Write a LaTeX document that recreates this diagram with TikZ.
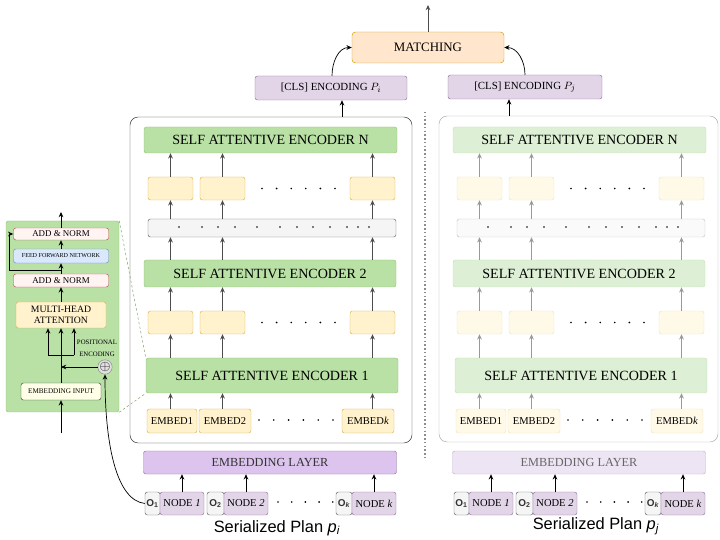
\documentclass[tikz,border=0pt]{standalone}
\usepackage{fontspec}
\setmainfont{Liberation Serif}
\setsansfont{Liberation Sans}
\usetikzlibrary{arrows.meta}

\definecolor{greenfill}{HTML}{B9E0A5}
\definecolor{greenline}{HTML}{94C67C}
\definecolor{yellowfill}{HTML}{FFF2CC}
\definecolor{yellowline}{HTML}{D6B656}
\definecolor{greyfill}{HTML}{F5F5F5}
\definecolor{greyline}{HTML}{666666}
\definecolor{purplefill}{HTML}{E1D5E7}
\definecolor{purpleline}{HTML}{9673A6}
\definecolor{layerfill}{HTML}{DCC4EE}
\definecolor{orangefill}{HTML}{FFE6CC}
\definecolor{orangeline}{HTML}{D79B00}
\definecolor{redfill}{HTML}{FFF4F2}
\definecolor{redline}{HTML}{B85450}
\definecolor{bluefill}{HTML}{DAE8FC}
\definecolor{blueline}{HTML}{6C8EBF}
\definecolor{creamfill}{HTML}{FFFFE8}
\definecolor{creamline}{HTML}{36393D}
% faded colours of the second encoder
\definecolor{greenfade}{HTML}{DDEFD5}
\definecolor{greenfadeline}{HTML}{C5E2B8}
\definecolor{yellowfade}{HTML}{FFF9E8}
\definecolor{yellowfadeline}{HTML}{F3E3B8}
\definecolor{greyfade}{HTML}{FAFAFA}
\definecolor{greyfadeline}{HTML}{C4C4C4}
\definecolor{layerfade}{HTML}{EDE4F4}
\definecolor{layerfadeline}{HTML}{C4B2D0}

\tikzset{
  blk/.style={draw,rounded corners=2pt,inner sep=0pt,align=center},
  sz/.style 2 args={minimum width=#1*0.03cm,minimum height=#2*0.03cm},
  arr/.style={->,line width=0.8pt},
  obox/.style={blk,fill=greyfill,draw=greyline,text=black!80,font=\sffamily\bfseries\fontsize{8.5}{9}\selectfont},
  nbox/.style={blk,fill=purplefill,draw=purpleline,font=\fontsize{9}{10}\selectfont},
  panel i/.style={
    enc/.style={blk,fill=greenfill,draw=greenline,font=\fontsize{12}{14}\selectfont},
    hid/.style={blk,fill=yellowfill,draw=yellowline,sz={45}{23}},
    barbox/.style={blk,fill=greyfill,draw=greyline},
    emb/.style={blk,fill=yellowfill,draw=yellowline,font=\fontsize{9}{10}\selectfont},
    laybox/.style={blk,fill=layerfill,draw=purpleline,text=black!80,font=\fontsize{10.5}{12}\selectfont},
    flow/.style={arr,draw=black!70}},
  panel j/.style={
    enc/.style={blk,fill=greenfade,draw=greenfadeline,font=\fontsize{12}{14}\selectfont},
    hid/.style={blk,fill=yellowfade,draw=yellowfadeline,sz={45}{23}},
    barbox/.style={blk,fill=greyfade,draw=greyfadeline},
    emb/.style={blk,fill=yellowfade,draw=yellowfadeline,font=\fontsize{9}{10}\selectfont},
    laybox/.style={blk,fill=layerfade,draw=layerfadeline,text=black!60,font=\fontsize{10.5}{12}\selectfont},
    flow/.style={arr,draw=black!40}}
}

\begin{document}
\begin{tikzpicture}[x=0.03cm,y=-0.03cm,>={Stealth[length=4.5pt,width=4pt]}]
  \useasboundingbox (0,0) rectangle (720,540);

  % the two encoders
  \node[draw=black!85,rounded corners=7pt,sz={282}{326}] (outi) at (271,280) {};
  \node[draw=black!35,rounded corners=7pt,sz={279}{326}] (outj) at (578.5,279) {};
  \draw[black!45,dotted,line width=1.2pt] (425,112) -- (425,458);

  \foreach \p/\dx in {i/0,j/309}{
    \begin{scope}[shift={(\dx,0)},panel \p]
      \node[enc,sz={253}{26}] (encN\p) at (270.5,140) {SELF ATTENTIVE ENCODER N};
      \node[hid] (a1\p) at (170.5,188.5) {};
      \node[hid] (a2\p) at (222.5,188.5) {};
      \node[hid] (ak\p) at (372.5,188.5) {};
      \node[barbox,sz={248}{18}] (bar\p) at (272,228) {};
      \node[enc,sz={252}{27}] (enc2\p) at (270,273.5) {SELF ATTENTIVE ENCODER 2};
      \node[hid] (b1\p) at (170.5,322.5) {};
      \node[hid] (b2\p) at (222.5,322.5) {};
      \node[hid] (bk\p) at (372.5,322.5) {};
      \node[enc,sz={252}{35}] (enc1\p) at (272,375.5) {SELF ATTENTIVE ENCODER 1};
      \node[emb,sz={50}{24}] (e1\p) at (172,421) {EMBED1};
      \node[emb,sz={52}{24}] (e2\p) at (225,421) {EMBED2};
      \node[emb,sz={52}{24}] (ek\p) at (368,421) {EMBED\textit{k}};
      \node[laybox,sz={253}{23}] (lay\p) at (270,462.5) {EMBEDDING LAYER};
      \node[obox,sz={15}{23}] (o1\p) at (152.5,503.5) {O\textsubscript{1}};
      \node[nbox,sz={44}{23}] (n1\p) at (182,503.5) {NODE \textit{1}};
      \node[obox,sz={17}{23}] (o2\p) at (215.5,503.5) {O\textsubscript{2}};
      \node[nbox,sz={44}{23}] (n2\p) at (246,503.5) {NODE \textit{2}};
      \node[obox,sz={16}{23}] (ok\p) at (344,503.5) {O\textsubscript{\textit{k}}};
      \node[nbox,sz={44}{23}] (nk\p) at (374,503.5) {NODE \textit{k}};
      \foreach \c in {1,2,k}{
        \draw[arr] (n\c\p) -- (lay\p.south -| n\c\p);
        \draw[flow] (e\c\p.north -| b\c\p) -- (enc1\p.south -| b\c\p);
        \draw[flow] (enc1\p.north -| b\c\p) -- (b\c\p);
        \draw[flow] (b\c\p) -- (enc2\p.south -| b\c\p);
        \draw[flow] (enc2\p.north -| a\c\p) -- (bar\p.south -| a\c\p);
        \draw[flow] (bar\p.north -| a\c\p) -- (a\c\p);
        \draw[flow] (a\c\p) -- (encN\p.south -| a\c\p);
      }
      \foreach \k in {0,...,5}{
        \fill (262+14.6*\k,188.5) circle (0.8pt);
        \fill (262+14.6*\k,322.5) circle (0.8pt);
        \fill (259+14.8*\k,420) circle (0.8pt);
      }
      \foreach \k in {0,...,4} \fill (278+13.7*\k,502) circle (0.8pt);
      \foreach \x in {179,202,218,235,257,280,297,313,330,347,358,369}
        \fill (\x,227) circle (0.8pt);
    \end{scope}
  }

  \node[font=\sffamily\fontsize{14}{16}\selectfont] (plani) at (277,528) {Serialized Plan \textit{p}\textsubscript{\textit{i}}};
  \node[font=\sffamily\fontsize{14}{16}\selectfont] (planj) at (596,526) {Serialized Plan \textit{p}\textsubscript{\textit{j}}};

  % matching on top
  \node[blk,fill=purplefill,draw=purpleline,sz={152}{24},font=\fontsize{9.3}{10}\selectfont] (clsi) at (331,88) {[CLS] ENCODING $P_i$};
  \node[blk,fill=purplefill,draw=purpleline,sz={154}{24},font=\fontsize{9.3}{10}\selectfont] (clsj) at (525,87) {[CLS] ENCODING $P_j$};
  \node[blk,fill=orangefill,draw=orangeline,rounded corners=3pt,sz={152}{31},font=\fontsize{11}{12}\selectfont] (match) at (428,47.5) {MATCHING};
  \coordinate (out) at (428,5);
  \coordinate (topi) at (342,117);
  \coordinate (topj) at (509,116);
  \draw[arr,draw=black!70] (match) -- (out);
  \draw[arr] (topi) -- (topi |- clsi.south);
  \draw[arr] (topj) -- (topj |- clsj.south);
  \draw[->,semithick] ([xshift=0.03cm]clsi.north) to[out=90,in=180] (match.west);
  \draw[->,semithick] (clsj.north) to[out=90,in=0] (match.east);

  % encoder block in detail
  \node[blk,fill=greenfill,draw=greenline,sz={113}{191}] (inset) at (62.5,316.5) {};
  \node[blk,fill=redfill,draw=redline,sz={95}{12},font=\fontsize{7.6}{8}\selectfont] (norm2) at (61,234) {ADD \& NORM};
  \node[blk,fill=bluefill,draw=blueline,sz={95}{14},font=\fontsize{5.2}{6}\selectfont] (ffn) at (61,256) {FEED FORWARD NETWORK};
  \node[blk,fill=redfill,draw=redline,sz={95}{13},font=\fontsize{7.6}{8}\selectfont] (norm1) at (61,280.5) {ADD \& NORM};
  \node[blk,fill=yellowfill,draw=yellowline,sz={90}{26},font=\fontsize{8.3}{9.5}\selectfont] (mha) at (61,315) {MULTI-HEAD\\ATTENTION};
  \node[blk,fill=creamfill,draw=creamline,sz={80}{17},font=\fontsize{6.1}{7}\selectfont] (embin) at (61,391.5) {EMBEDDING INPUT};
  \node[circle,draw=black!45,fill=black!12,inner sep=0pt,minimum size=14*0.03cm,font=\fontsize{13}{13}\selectfont] (plus) at (105,367) {$\oplus$};
  \node[font=\fontsize{5.8}{10}\selectfont,align=center] (posenc) at (97,348) {POSITIONAL\\ENCODING};
  \coordinate (inbot) at (61,433);
  \coordinate (intop) at (61,212);
  \coordinate (qk) at (48,355);
  \coordinate (vv) at (74,355);
  \coordinate (res) at (61,270);
  \draw[arr] (inbot) -- (embin);
  \draw[arr] (embin) -- (mha);
  \draw[line width=0.8pt] (qk) -- (vv);
  \draw[arr] (qk) -- (qk |- mha.south);
  \draw[arr] (vv) -- (vv |- mha.south);
  \draw[arr] (plus) -- (plus -| embin);
  \draw[arr] (mha) -- (norm1);
  \draw[arr] (norm1) -- (ffn);
  \draw[arr] (ffn) -- (norm2);
  \draw[arr] (norm2) -- (intop);
  \draw[arr] (res) -- ++(-52,0) |- (norm2.west);
  \draw[->,semithick] (o1i.west) .. controls (115,500) and (105,440) .. (plus.south);
  \draw[greenline!80!black,dash pattern=on 2pt off 2pt] (inset.north east) -- (enc1i.north west);
  \draw[greenline!80!black,dash pattern=on 2pt off 2pt] (inset.south east) -- (enc1i.south west);
\end{tikzpicture}
\end{document}
